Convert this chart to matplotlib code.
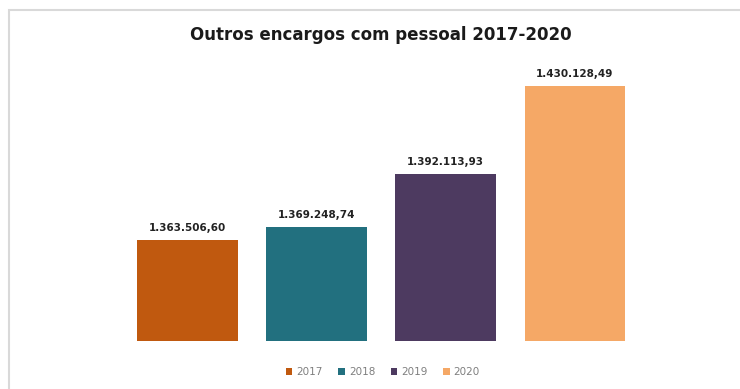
import matplotlib
matplotlib.use("Agg")
import matplotlib.pyplot as plt
from matplotlib.patches import Rectangle

# Outros encargos com pessoal, por ano (EUR)
anos = ["2017", "2018", "2019", "2020"]
valores = [1363506.60, 1369248.74, 1392113.93, 1430128.49]
cores = ["#C0590F", "#22707F", "#4D3A60", "#F5A866"]


def fmt_pt(v):
    # 1234567.89 -> 1.234.567,89
    s = f"{v:,.2f}"
    return s.replace(",", "X").replace(".", ",").replace("X", ".")


fig = plt.figure(figsize=(7.4, 3.89), dpi=100)
fig.patch.set_facecolor("white")

# moldura do gráfico
fig.patches.append(Rectangle((9 / 740, -0.05), 1.1, (389 - 10) / 389 + 0.05,
                             transform=fig.transFigure, fill=False,
                             edgecolor="#d9d9d9", linewidth=1.5, zorder=0))

ax = fig.add_axes([123 / 740, 48 / 389, 516.5 / 740, 278.4 / 389])
x = list(range(len(anos)))
bars = ax.bar(x, valores, width=0.78, color=cores, label=anos)

ax.set_xlim(-0.5, 3.5)
ax.set_ylim(1320000, 1440000)
ax.axis("off")

for b, v in zip(bars, valores):
    ax.annotate(fmt_pt(v), (b.get_x() + b.get_width() / 2, v),
                xytext=(0, 5), textcoords="offset points",
                ha="center", va="bottom", fontsize=7.5, fontweight="bold",
                color="#222222")

fig.text(381 / 740, 1 - 35 / 389, "Outros encargos com pessoal 2017-2020",
         ha="center", va="center", fontsize=12, fontweight="bold",
         color="#1a1a1a")

leg = fig.legend(bars, anos, loc="center", bbox_to_anchor=(383 / 740, 1 - 372 / 389),
                 ncol=4, frameon=False, fontsize=7.5, handlelength=0.6,
                 handleheight=0.6, handletextpad=0.4, columnspacing=1.5)
for t in leg.get_texts():
    t.set_color("#7f7f7f")

fig.savefig("out.png", dpi=100)
